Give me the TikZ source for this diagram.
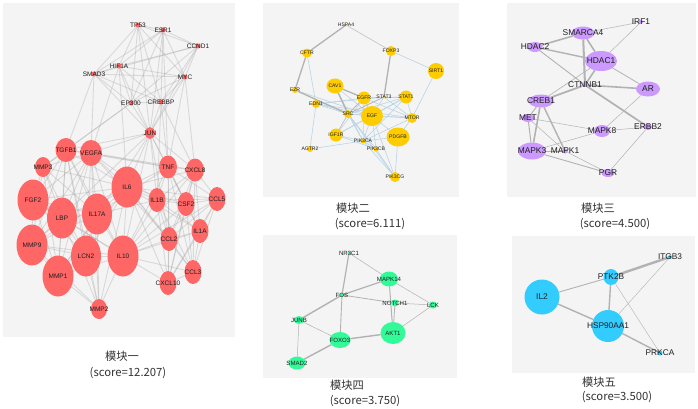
\documentclass[tikz,border=0pt]{standalone}
\usepackage{fontspec}
\setmainfont{Liberation Sans}
\newfontfamily\cjk{Noto Sans CJK SC}
\usetikzlibrary{shapes.geometric}
\pgfdeclarelayer{bg}\pgfdeclarelayer{edges}
\pgfsetlayers{bg,edges,main}
\definecolor{panelbg}{RGB}{244,244,244}
\definecolor{c1}{RGB}{255,102,102}
\definecolor{c2}{RGB}{255,204,0}
\definecolor{c3}{RGB}{204,153,255}
\definecolor{c4}{RGB}{51,250,153}
\definecolor{c5}{RGB}{51,204,255}
\definecolor{lblue}{RGB}{185,212,230}
\definecolor{txt}{RGB}{30,30,30}
\tikzset{
  gnode/.style={ellipse,inner sep=0pt,outer sep=0pt,draw=none},
  r1/.style={gnode,fill=c1}, r1t/.style={font=\fontsize{6.5}{6.5}\selectfont,text=txt,inner sep=0pt},
  r2/.style={gnode,fill=c2}, r2t/.style={font=\fontsize{5.1}{5.1}\selectfont,text=txt,inner sep=0pt},
  r3/.style={gnode,fill=c3}, r3t/.style={font=\fontsize{8.4}{8.4}\selectfont,text=txt,inner sep=0pt},
  r4/.style={gnode,fill=c4}, r4t/.style={font=\fontsize{6.1}{6.1}\selectfont,text=txt,inner sep=0pt},
  r5/.style={gnode,fill=c5}, r5t/.style={font=\fontsize{8.3}{8.3}\selectfont,text=txt,inner sep=0pt},
  panel/.style={fill=panelbg,draw=none},
  e1/.style={draw=gray!70,line width=0.9pt,draw opacity=0.35},
  eg/.style={draw=gray!75,line width=#1},
  eb/.style={draw=lblue,line width=0.6pt},
  ttl/.style={font=\cjk\fontsize{11.3}{11.3}\selectfont,text=black!80,inner sep=0pt},
}
\newcommand\mkgene[6]{\node[#1,minimum width=#5pt,minimum height=#6pt,label={[#1t]center:#4}] (#2) at (#3) {};}
\begin{document}
\begin{tikzpicture}[x=1pt,y=-1pt]
\useasboundingbox (0,0) rectangle (698,408);
\begin{pgfonlayer}{bg}
\fill[white] (0,0) rectangle (698,408);
\path[panel] (3,3) rectangle (235,337);
\path[panel] (263,3) rectangle (459,197);
\path[panel] (507,3) rectangle (696,197);
\path[panel] (263,235) rectangle (457,378);
\path[panel] (512,236) rectangle (695,373);
\end{pgfonlayer}

% ---------- Panel 1 ----------
\mkgene{r1}{tp53}{138,25}{TP53}{5}{5}
\mkgene{r1}{esr1}{163,30}{ESR1}{5}{5}
\mkgene{r1}{ccnd1}{198,46}{CCND1}{5}{5}
\mkgene{r1}{hif1a}{119,66}{HIF1A}{5}{5}
\mkgene{r1}{smad3}{94,74}{SMAD3}{5}{5}
\mkgene{r1}{myc}{185,77}{MYC}{5}{5}
\mkgene{r1}{ep300}{131,103}{EP300}{5}{5}
\mkgene{r1}{crebbp}{161,102}{CREBBP}{5}{5}
\mkgene{r1}{jun}{150,133}{JUN}{10}{12}
\mkgene{r1}{tgfb1}{66,150}{TGFB1}{21}{24}
\mkgene{r1}{vegfa}{91,153}{VEGFA}{22}{26}
\mkgene{r1}{mmp3}{43,167}{MMP3}{16}{20}
\mkgene{r1}{tnf}{168,167}{TNF}{18}{23}
\mkgene{r1}{cxcl8}{195,170}{CXCL8}{18}{23}
\mkgene{r1}{il6}{127,187}{IL6}{31}{41}
\mkgene{r1}{fgf2}{33,200}{FGF2}{31}{41}
\mkgene{r1}{lbp}{62,218}{LBP}{30}{41}
\mkgene{r1}{il17a}{97,214}{IL17A}{30}{41}
\mkgene{r1}{il1b}{157,200}{IL1B}{17}{24}
\mkgene{r1}{csf2}{186,204}{CSF2}{17}{24}
\mkgene{r1}{ccl5}{217,199}{CCL5}{17}{24}
\mkgene{r1}{il1a}{200,231}{IL1A}{17}{24}
\mkgene{r1}{mmp9}{32,245}{MMP9}{31}{41}
\mkgene{r1}{lcn2}{86,256}{LCN2}{30}{41}
\mkgene{r1}{il10}{123,256}{IL10}{31}{41}
\mkgene{r1}{ccl2}{169,239}{CCL2}{17}{24}
\mkgene{r1}{mmp1}{58,276}{MMP1}{31}{41}
\mkgene{r1}{ccl3}{193,272}{CCL3}{17}{24}
\mkgene{r1}{cxcl10}{168,283}{CXCL10}{17}{24}
\mkgene{r1}{mmp2}{99,309}{MMP2}{16}{20}

\begin{pgfonlayer}{edges}
\foreach \a/\b in {tp53/esr1,tp53/hif1a,tp53/smad3,tp53/myc,tp53/ep300,tp53/crebbp,tp53/jun,tp53/ccnd1,
 esr1/ccnd1,esr1/hif1a,esr1/smad3,esr1/myc,esr1/ep300,esr1/crebbp,esr1/jun,esr1/tnf,
 ccnd1/hif1a,ccnd1/myc,ccnd1/ep300,ccnd1/crebbp,ccnd1/jun,ccnd1/smad3,
 hif1a/smad3,hif1a/myc,hif1a/ep300,hif1a/crebbp,hif1a/jun,hif1a/vegfa,hif1a/il6,
 smad3/myc,smad3/ep300,smad3/crebbp,smad3/jun,smad3/tgfb1,smad3/vegfa,
 myc/ep300,myc/crebbp,myc/jun,myc/tnf,myc/cxcl8,
 ep300/crebbp,ep300/jun,ep300/mmp3,ep300/tgfb1,
 crebbp/jun,crebbp/tnf,crebbp/cxcl8,crebbp/il1b,
 jun/tnf,jun/il6,jun/vegfa,jun/tgfb1,jun/il1b,jun/ccl2,jun/il10,jun/mmp1,jun/cxcl8,jun/csf2,jun/mmp9,
 tgfb1/vegfa,tgfb1/mmp3,tgfb1/fgf2,tgfb1/lbp,tgfb1/il17a,tgfb1/il6,tgfb1/mmp9,tgfb1/lcn2,tgfb1/il10,tgfb1/mmp1,tgfb1/mmp2,tgfb1/tnf,
 vegfa/mmp3,vegfa/fgf2,vegfa/lbp,vegfa/il17a,vegfa/il6,vegfa/mmp9,vegfa/lcn2,vegfa/il10,vegfa/mmp1,vegfa/mmp2,vegfa/tnf,vegfa/il1b,vegfa/ccl2,vegfa/cxcl8,
 mmp3/fgf2,mmp3/lbp,mmp3/il17a,mmp3/il6,mmp3/mmp9,mmp3/mmp1,mmp3/lcn2,
 il6/fgf2,il6/lbp,il6/il17a,il6/mmp9,il6/lcn2,il6/il10,il6/mmp1,il6/mmp2,il6/tnf,il6/cxcl8,il6/il1b,il6/csf2,il6/ccl5,il6/il1a,il6/ccl2,il6/ccl3,il6/cxcl10,
 fgf2/lbp,fgf2/il17a,fgf2/mmp9,fgf2/lcn2,fgf2/il10,fgf2/mmp1,
 lbp/il17a,lbp/mmp9,lbp/lcn2,lbp/il10,lbp/mmp1,lbp/mmp2,
 il17a/mmp9,il17a/lcn2,il17a/il10,il17a/mmp1,il17a/mmp2,il17a/tnf,il17a/il1b,
 mmp9/lcn2,mmp9/il10,mmp9/mmp1,mmp9/mmp2,
 lcn2/il10,lcn2/mmp1,lcn2/mmp2,
 il10/mmp1,il10/mmp2,il10/tnf,il10/il1b,il10/csf2,il10/ccl2,il10/ccl3,il10/cxcl10,il10/il1a,il10/cxcl8,il10/ccl5,
 mmp1/mmp2,
 tnf/cxcl8,tnf/il1b,tnf/csf2,tnf/ccl5,tnf/il1a,tnf/ccl2,tnf/ccl3,tnf/cxcl10,
 cxcl8/il1b,cxcl8/csf2,cxcl8/ccl5,cxcl8/il1a,cxcl8/ccl2,cxcl8/ccl3,cxcl8/cxcl10,
 il1b/csf2,il1b/ccl5,il1b/il1a,il1b/ccl2,il1b/ccl3,il1b/cxcl10,
 csf2/ccl5,csf2/il1a,csf2/ccl2,csf2/ccl3,csf2/cxcl10,
 ccl5/il1a,ccl5/ccl2,ccl5/ccl3,ccl5/cxcl10,
 il1a/ccl2,il1a/ccl3,il1a/cxcl10,
 ccl2/ccl3,ccl2/cxcl10,ccl3/cxcl10}
 \draw[e1] (\a) -- (\b);
\end{pgfonlayer}

% ---------- Panel 2 ----------
\mkgene{r2}{hspa4}{346,25}{HSPA4}{2}{2}
\mkgene{r2}{cftr}{307,53}{CFTR}{10}{9}
\mkgene{r2}{foxp3}{391,51}{FOXP3}{10}{10}
\mkgene{r2}{sirt1}{436,71}{SIRT1}{16}{16}
\mkgene{r2}{ezr}{295,90}{EZR}{6}{6}
\mkgene{r2}{cav1}{335,86}{CAV1}{17}{15}
\mkgene{r2}{egfr}{364,98}{EGFR}{13}{13}
\mkgene{r2}{stat3}{384,97}{STAT3}{3}{3}
\mkgene{r2}{stat1}{406,97}{STAT1}{13}{13}
\mkgene{r2}{edn1}{316,104}{EDN1}{8}{8}
\mkgene{r2}{src}{348,114}{SRC}{8}{8}
\mkgene{r2}{egf}{372,116}{EGF}{22}{20}
\mkgene{r2}{mtor}{412,118}{MTOR}{10}{10}
\mkgene{r2}{igf1r}{336,135}{IGF1R}{13}{13}
\mkgene{r2}{pik3ca}{363,141}{PIK3CA}{5}{5}
\mkgene{r2}{pdgfb}{398,137}{PDGFB}{23}{19}
\mkgene{r2}{agtr2}{310,149}{AGTR2}{6}{6}
\mkgene{r2}{pik3cb}{376,149}{PIK3CB}{5}{5}
\mkgene{r2}{pik3cg}{395,177}{PIK3CG}{10}{10}

\begin{pgfonlayer}{edges}
\foreach \a/\b in {cftr/edn1,foxp3/sirt1,sirt1/mtor,edn1/agtr2,edn1/src,edn1/egfr,edn1/egf,edn1/stat3,edn1/mtor,
 ezr/egf,src/egf,src/stat1,src/mtor,src/pik3ca,src/pik3cb,egfr/egf,egfr/stat1,egfr/mtor,egfr/pik3ca,egfr/igf1r,
 egf/stat1,egf/mtor,egf/pik3ca,egf/pik3cb,egf/pdgfb,egf/pik3cg,egf/igf1r,stat3/stat1,stat3/mtor,stat3/egf,
 stat1/mtor,stat1/pik3ca,mtor/pik3ca,mtor/pdgfb,pdgfb/pik3cg,pdgfb/pik3ca,pik3ca/pik3cb,pik3ca/pik3cg,
 pik3cb/pik3cg,igf1r/pik3ca,igf1r/pik3cb,agtr2/pik3ca,cav1/egf,cav1/pik3ca,egfr/stat3,igf1r/stat1,src/pik3cg}
 \draw[eb] (\a) -- (\b);
\draw[eg=1.3pt,draw=gray!60] (hspa4) -- (cftr);
\draw[eg=0.7pt,draw=gray!45] (hspa4) -- (foxp3);
\draw[eg=1.3pt,draw=gray!60] (cftr) -- (ezr);
\draw[eg=1.3pt,draw=gray!60] (ezr) -- (src);
\draw[eg=1.3pt,draw=gray!60] (cav1) -- (src);
\draw[eg=1.3pt,draw=gray!60] (cav1) -- (egfr);
\draw[eg=1.3pt,draw=gray!60] (foxp3) -- (stat3);
\draw[eg=0.9pt,draw=gray!55] (egfr) -- (src);
\draw[eg=0.9pt,draw=gray!55] (src) -- (stat3);
\draw[eg=0.7pt,draw=gray!50] (igf1r) -- (src);
\end{pgfonlayer}

% ---------- Panel 3 ----------
\mkgene{r3}{irf1}{641,22}{IRF1}{4}{4}
\mkgene{r3}{smarca4}{583,33}{SMARCA4}{23}{13}
\mkgene{r3}{hdac2}{535,47}{HDAC2}{15}{10}
\mkgene{r3}{hdac1}{601,61}{HDAC1}{32}{20}
\mkgene{r3}{ctnnb1}{585,85}{CTNNB1}{6}{4}
\mkgene{r3}{ar}{648,89}{AR}{24}{15}
\mkgene{r3}{creb1}{541,101}{CREB1}{25}{13}
\mkgene{r3}{met}{528,118}{MET}{13}{8}
\mkgene{r3}{mapk8}{602,131}{MAPK8}{16}{12}
\mkgene{r3}{erbb2}{648,127}{ERBB2}{8}{6}
\mkgene{r3}{mapk3}{532,151}{MAPK3}{28}{17}
\mkgene{r3}{mapk1}{565,151}{MAPK1}{6}{5}
\mkgene{r3}{pgr}{608,173}{PGR}{13}{8}

\begin{pgfonlayer}{edges}
\foreach \a/\b/\w in {smarca4/hdac2/1.6,smarca4/hdac1/1.6,smarca4/irf1/0.5,hdac1/irf1/0.5,hdac2/hdac1/1.4,
 smarca4/ctnnb1/2,hdac1/ctnnb1/1.6,hdac1/ar/0.8,ctnnb1/ar/1.6,ctnnb1/creb1/1.8,ctnnb1/erbb2/1.8,
 hdac2/ctnnb1/0.9,hdac1/creb1/0.6,creb1/mapk3/1.6,creb1/mapk1/1.4,creb1/met/0.9,met/mapk3/1,
 met/mapk8/0.5,met/mapk1/0.5,mapk3/mapk8/0.5,mapk3/pgr/0.9,mapk1/pgr/0.5,mapk8/erbb2/0.5,
 erbb2/pgr/0.5,ar/mapk8/0.5,mapk3/mapk1/0.9}
 \draw[eg=\w pt,draw=gray!60] (\a) -- (\b);
\end{pgfonlayer}

% ---------- Panel 4 ----------
\mkgene{r4}{nr3c1}{349,253}{NR3C1}{3}{3}
\mkgene{r4}{mapk14}{389,279}{MAPK14}{18}{15}
\mkgene{r4}{fos}{342,295}{FOS}{4}{4}
\mkgene{r4}{notch1}{395,303}{NOTCH1}{7}{7}
\mkgene{r4}{lck}{433,305}{LCK}{8}{7}
\mkgene{r4}{junb}{299,320}{JUNB}{10}{8}
\mkgene{r4}{akt1}{393,333}{AKT1}{25}{22}
\mkgene{r4}{foxo3}{340,340}{FOXO3}{21}{16}
\mkgene{r4}{smad2}{297,363}{SMAD2}{17}{13}

\begin{pgfonlayer}{edges}
\foreach \a/\b/\w in {nr3c1/fos/1.2,nr3c1/mapk14/0.5,mapk14/fos/1.2,mapk14/akt1/1,mapk14/lck/0.5,
 fos/notch1/0.8,fos/junb/1.4,fos/foxo3/0.9,junb/foxo3/0.5,junb/smad2/0.5,foxo3/akt1/1.4,
 foxo3/smad2/1.4,notch1/lck/0.5,notch1/akt1/0.8,akt1/lck/0.5}
 \draw[eg=\w pt,draw=gray!60] (\a) -- (\b);
\end{pgfonlayer}

% ---------- Panel 5 ----------
\mkgene{r5}{itgb3}{670,257}{ITGB3}{4}{4}
\mkgene{r5}{ptk2b}{611,277}{PTK2B}{15}{16}
\mkgene{r5}{il2}{542,297}{IL2}{35}{35}
\mkgene{r5}{hsp}{608,326}{HSP90AA1}{32}{32}
\mkgene{r5}{prkca}{660,353}{PRKCA}{5}{5}

\begin{pgfonlayer}{edges}
\foreach \a/\b/\w in {ptk2b/itgb3/2.4,il2/ptk2b/0.9,il2/hsp/1.4,ptk2b/hsp/1.4,ptk2b/prkca/0.4,
 hsp/itgb3/0.4,hsp/prkca/1.4}
 \draw[eg=\w pt,draw=gray!60] (\a) -- (\b);
\end{pgfonlayer}

% ---------- Titles ----------
\node[ttl] (t1) at (122,356) {模块一};
\node[ttl] (s1) at (128,373) {(score=12.207)};
\node[ttl] (t2) at (353,208) {模块二};
\node[ttl] (s2) at (370,224) {(score=6.111)};
\node[ttl] (t3) at (598,208) {模块三};
\node[ttl] (s3) at (615,224) {(score=4.500)};
\node[ttl] (t4) at (347,385) {模块四};
\node[ttl] (s4) at (365,401) {(score=3.750)};
\node[ttl] (t5) at (599,382) {模块五};
\node[ttl] (s5) at (617,397) {(score=3.500)};
\end{tikzpicture}
\end{document}
